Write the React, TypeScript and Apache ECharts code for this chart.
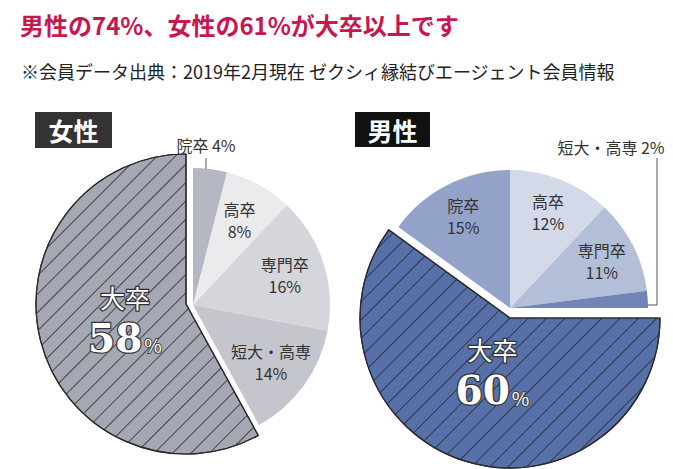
import React, { useEffect, useRef } from 'react';
import * as echarts from 'echarts';

const FONT = "'Noto Sans CJK JP', 'Noto Sans', sans-serif";
const SERIF = "'DejaVu Serif', 'Liberation Serif', serif";

const TITLE = '男性の74%、女性の61%が大卒以上です';
const SOURCE = '※会員データ出典：2019年2月現在 ゼクシィ縁結びエージェント会員情報';

const HIGHLIGHT = '大卒';

const femaleCategories = ['院卒', '高卒', '専門卒', '短大・高専', '大卒'];
const femaleValues = [4, 8, 16, 14, 58];
const femaleColors = ['#b5b7c2', '#ebebee', '#d5d6db', '#c5c6cd', '#a5a7b3'];
const femaleInnerLabels = ['高卒', '専門卒', '短大・高専'];

const maleCategories = ['高卒', '専門卒', '短大・高専', '大卒', '院卒'];
const maleValues = [12, 11, 2, 60, 15];
const maleColors = ['#d3d9e8', '#b3bed8', '#7385b6', '#5870a8', '#93a2c8'];
const maleInnerLabels = ['高卒', '専門卒', '院卒'];

const TRANSPARENT = 'rgba(0,0,0,0)';

function pieSeries(
  cats: string[],
  vals: number[],
  colors: string[],
  innerLabels: string[],
  base: { center: number[]; r: number; labelR0: number },
  exploded: { center: number[]; r: number; labelR: number }
) {
  const common = {
    type: 'pie',
    startAngle: 90,
    clockwise: true,
    silent: true,
    avoidLabelOverlap: false,
    emphasis: { disabled: true },
    labelLine: { show: false },
  };
  const baseSeries = {
    ...common,
    center: base.center,
    radius: [0, base.r],
    label: { show: false },
    data: cats.map((c, i) => ({
      name: c,
      value: vals[i],
      itemStyle: { color: c === HIGHLIGHT ? TRANSPARENT : colors[i], borderWidth: 0 },
    })),
  };
  const explodedSeries = {
    ...common,
    center: exploded.center,
    radius: [0, exploded.r],
    label: { show: false },
    data: cats.map((c, i) => ({
      name: c,
      value: vals[i],
      itemStyle:
        c === HIGHLIGHT
          ? {
              color: colors[i],
              borderColor: '#2a2a30',
              borderWidth: 1.2,
              decal: {
                symbol: 'rect',
                symbolSize: 1,
                color: 'rgba(35,35,50,0.75)',
                dashArrayX: [1, 0],
                dashArrayY: [1, 12],
                rotation: -Math.PI / 4,
              },
            }
          : { color: TRANSPARENT, borderWidth: 0 },
    })),
  };
  const innerLabelSeries = {
    ...common,
    center: base.center,
    radius: [base.labelR0, base.r],
    itemStyle: { color: TRANSPARENT, borderWidth: 0 },
    label: {
      show: true,
      position: 'inside',
      formatter: '{b}\n{c}%',
      fontFamily: FONT,
      fontSize: 16,
      lineHeight: 22,
      color: '#333',
    },
    data: cats.map((c, i) => ({
      name: c,
      value: vals[i],
      label: { show: innerLabels.includes(c) },
    })),
  };
  const bigLabelSeries = {
    ...common,
    center: exploded.center,
    radius: [0, exploded.labelR],
    itemStyle: { color: TRANSPARENT, borderWidth: 0 },
    label: {
      show: true,
      position: 'inside',
      formatter: (p: any) => `{a|${p.name}}\n{b|${p.value}}{c|%}`,
      rich: {
        a: {
          fontFamily: FONT,
          fontSize: 25,
          color: '#fff',
          textBorderColor: '#333',
          textBorderWidth: 2.5,
          lineHeight: 36,
        },
        b: {
          fontFamily: SERIF,
          fontSize: 39,
          fontWeight: 'bold',
          color: '#fff',
          textBorderColor: '#333',
          textBorderWidth: 2.5,
          lineHeight: 46,
        },
        c: {
          fontFamily: FONT,
          fontSize: 19,
          color: '#fff',
          textBorderColor: '#444',
          textBorderWidth: 2,
          padding: [14, 0, 0, 2],
        },
      },
    },
    data: cats.map((c, i) => ({
      name: c,
      value: vals[i],
      label: { show: c === HIGHLIGHT },
    })),
  };
  return [baseSeries, explodedSeries, innerLabelSeries, bigLabelSeries];
}

export default function App() {
  const ref = useRef<HTMLDivElement>(null);
  useEffect(() => {
    if (!ref.current) return;
    const chart = echarts.init(ref.current, undefined, { renderer: 'svg' });
    const fIdx = femaleCategories.indexOf('院卒');
    const mIdx = maleCategories.indexOf('短大・高専');
    chart.setOption({
      animation: false,
      backgroundColor: '#ffffff',
      series: [
        ...pieSeries(
          femaleCategories,
          femaleValues,
          femaleColors,
          femaleInnerLabels,
          { center: [193, 305], r: 137, labelR0: 50 },
          { center: [186, 304], r: 150, labelR: 120 }
        ),
        ...pieSeries(
          maleCategories,
          maleValues,
          maleColors,
          maleInnerLabels,
          { center: [510, 308], r: 138, labelR0: 62 },
          { center: [510, 318], r: 150, labelR: 108 }
        ),
      ],
      graphic: [
        {
          type: 'text',
          left: 20,
          top: 12,
          style: { text: TITLE, font: `bold 24px ${FONT}`, fill: '#c8174f' },
        },
        {
          type: 'text',
          left: 21,
          top: 62,
          style: { text: SOURCE, font: `18px ${FONT}`, fill: '#222' },
        },
        {
          type: 'rect',
          shape: { x: 35, y: 112, width: 77, height: 36 },
          style: { fill: '#333333' },
        },
        {
          type: 'text',
          x: 73.5,
          y: 130,
          style: {
            text: '女性',
            font: `bold 25px ${FONT}`,
            fill: '#fff',
            textAlign: 'center',
            textVerticalAlign: 'middle',
          },
        },
        {
          type: 'rect',
          shape: { x: 355, y: 112, width: 75, height: 35 },
          style: { fill: '#111111' },
        },
        {
          type: 'text',
          x: 392.5,
          y: 129.5,
          style: {
            text: '男性',
            font: `bold 25px ${FONT}`,
            fill: '#fff',
            textAlign: 'center',
            textVerticalAlign: 'middle',
          },
        },
        {
          type: 'text',
          x: 206,
          y: 145,
          style: {
            text: `${femaleCategories[fIdx]} ${femaleValues[fIdx]}%`,
            font: `16px ${FONT}`,
            fill: '#333',
            textAlign: 'center',
            textVerticalAlign: 'middle',
          },
        },
        {
          type: 'line',
          shape: { x1: 206, y1: 158, x2: 206, y2: 187 },
          style: { stroke: '#555', lineWidth: 1 },
        },
        {
          type: 'text',
          x: 611,
          y: 147,
          style: {
            text: `${maleCategories[mIdx]} ${maleValues[mIdx]}%`,
            font: `16px ${FONT}`,
            fill: '#333',
            textAlign: 'center',
            textVerticalAlign: 'middle',
          },
        },
        {
          type: 'polyline',
          shape: { points: [[657, 158], [657, 305], [630, 305]] },
          style: { stroke: '#555', lineWidth: 1, fill: 'none' },
        },
      ],
    });
    return () => chart.dispose();
  }, []);
  return (
    <div
      ref={ref}
      style={{ position: 'absolute', left: 0, top: 0, width: 673, height: 469 }}
    />
  );
}
